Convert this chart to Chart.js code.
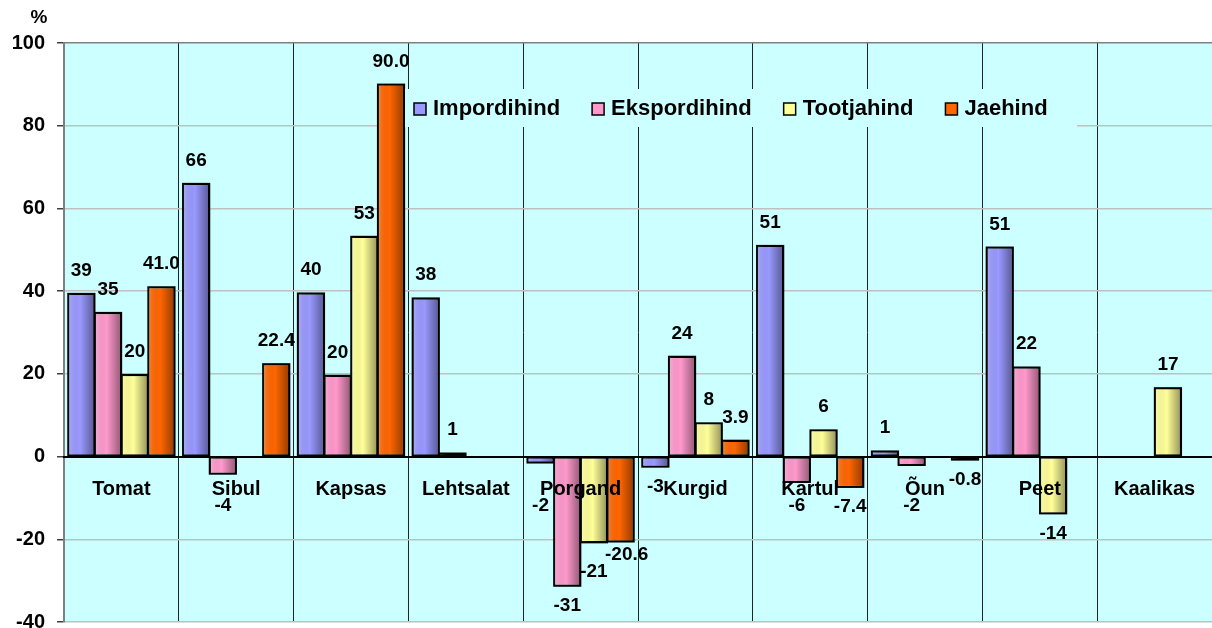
<!DOCTYPE html>
<html>
<head>
<meta charset="utf-8">
<script src="https://cdn.jsdelivr.net/npm/chart.js@4"></script>
<style>
  html, body { margin: 0; padding: 0; background: #fff; }
  #wrap { width: 1212px; height: 628px; }
</style>
</head>
<body>
<div id="wrap"><canvas id="myChart" width="1212" height="628"></canvas></div>
<script>
const categories = ['Tomat', 'Sibul', 'Kapsas', 'Lehtsalat', 'Porgand', 'Kurgid', 'Kartul', 'Õun', 'Peet', 'Kaalikas'];
const impordihind = [39.4, 66, 39.5, 38.3, -1.5, -2.5, 51, 1.3, 50.6, null];
const ekspordihind = [34.8, -4.2, 19.6, 0.8, -31.3, 24.2, -6.2, -2.1, 21.6, null];
const tootjahind = [19.8, null, 53.2, null, -20.8, 8.1, 6.4, null, -13.8, 16.6];
const jaehind = [41.0, 22.4, 90.0, null, -20.6, 3.9, -7.4, -0.8, null, null];
const yTicks = [-40, -20, 0, 20, 40, 60, 80, 100];

const seriesNames = ['Impordihind', 'Ekspordihind', 'Tootjahind', 'Jaehind'];
const seriesColors = ['#9999FF', '#FF99CC', '#FFFF99', '#FF6600'];
const decimals = [0, 0, 0, 1];

const FONT = '"Liberation Sans", Arial, sans-serif';
const CAT_FONT = 'bold 20px ' + FONT;
const LABEL_FONT = 'bold 19px ' + FONT;

const plotBg = {
    id: 'plotBg',
    beforeDraw(chart) {
        const { ctx, chartArea: a } = chart;
        ctx.save();
        ctx.fillStyle = '#CCFFFF';
        ctx.fillRect(a.left, a.top, a.right - a.left, a.bottom - a.top);
        ctx.restore();
    }
};

const barLook = {
    id: 'barLook',
    afterDatasetsDraw(chart) {
        const ctx = chart.ctx;
        const xs = chart.scales.x;
        const catY = chart.scales.y.getPixelForValue(0) + 31;
        ctx.save();
        // shading + border
        chart.data.datasets.forEach((ds, di) => {
            chart.getDatasetMeta(di).data.forEach((bar, i) => {
                const v = ds.data[i];
                if (v === null || v === undefined) return;
                const p = bar.getProps(['x', 'y', 'base', 'width'], true);
                const left = p.x - p.width / 2;
                const top = Math.min(p.y, p.base);
                const h = Math.abs(p.base - p.y);
                const g = ctx.createLinearGradient(left, 0, left + p.width, 0);
                g.addColorStop(0, 'rgba(255,255,255,0.18)');
                g.addColorStop(0.45, 'rgba(0,0,0,0)');
                g.addColorStop(1, 'rgba(0,0,0,0.42)');
                ctx.fillStyle = g;
                ctx.fillRect(left, top, p.width, h);
                ctx.strokeStyle = '#000';
                ctx.lineWidth = 1.5;
                ctx.strokeRect(left, top, p.width, h);
            });
        });

        // value labels, nudged off the category names and each other
        ctx.font = CAT_FONT;
        const catW = categories.map(c => ctx.measureText(c).width);
        ctx.font = LABEL_FONT;
        const placed = [];
        chart.data.datasets.forEach((ds, di) => {
            chart.getDatasetMeta(di).data.forEach((bar, i) => {
                const v = ds.data[i];
                if (v === null || v === undefined) return;
                const p = bar.getProps(['x', 'y'], true);
                const txt = v.toFixed(decimals[di]);
                const w = ctx.measureText(txt).width;
                let lx = p.x;
                let ly = v >= 0 ? p.y - 23 : p.y + 20;
                const cx = xs.getPixelForValue(i);
                if (v < 0 && Math.abs(ly - catY) < 15 && Math.abs(lx - cx) < catW[i] / 2 + w / 2 - 4) {
                    ly = catY + 18;
                }
                const prev = placed.find(o => o.cat === i && Math.abs(o.y - ly) < 16 && Math.abs(o.x - lx) < (o.w + w) / 2);
                if (prev) {
                    prev.y += 9;
                    ly -= 7;
                    lx += 6;
                }
                placed.push({ cat: i, x: lx, y: ly, w: w, txt: txt });
            });
        });
        ctx.fillStyle = '#000';
        ctx.textAlign = 'center';
        ctx.textBaseline = 'middle';
        placed.forEach(o => ctx.fillText(o.txt, o.x, o.y));
        ctx.restore();
    }
};

const legendBox = {
    id: 'legendBox',
    afterDraw(chart) {
        const ctx = chart.ctx;
        ctx.save();
        ctx.fillStyle = '#CCFFFF';
        ctx.fillRect(405, 89, 672, 38);
        ctx.font = 'bold 22px ' + FONT;
        ctx.textBaseline = 'middle';
        ctx.textAlign = 'left';
        let x = 414;
        const y = 109;
        seriesNames.forEach((name, i) => {
            ctx.fillStyle = seriesColors[i];
            ctx.fillRect(x, y - 6, 12, 12);
            ctx.strokeStyle = '#000';
            ctx.lineWidth = 1.5;
            ctx.strokeRect(x, y - 6, 12, 12);
            ctx.fillStyle = '#000';
            ctx.fillText(name, x + 19, y);
            x += 19 + ctx.measureText(name).width + 32;
        });
        // axis unit
        ctx.font = 'bold 19px ' + FONT;
        ctx.textAlign = 'center';
        ctx.fillText('%', 39, 18);
        ctx.restore();
    }
};

const ctx = document.getElementById('myChart').getContext('2d');

const chart = new Chart(ctx, {
    type: 'bar',
    data: {
        labels: categories,
        datasets: [impordihind, ekspordihind, tootjahind, jaehind].map((d, i) => ({
            label: seriesNames[i],
            data: d,
            backgroundColor: seriesColors[i],
            borderColor: '#000',
            borderWidth: 1.5,
            borderSkipped: false,
            categoryPercentage: 0.93,
            barPercentage: 1
        }))
    },
    options: {
        responsive: false,
        animation: false,
        layout: { padding: { top: 43, right: 0, bottom: 6, left: 0 } },
        plugins: {
            legend: { display: false },
            tooltip: { enabled: false }
        },
        scales: {
            x: {
                position: { y: 0 },
                afterFit(scale) {
                    scale.paddingLeft = 0;
                    scale.paddingRight = 0;
                },
                grid: {
                    offset: true,
                    color: '#222',
                    lineWidth: 1,
                    drawTicks: false
                },
                border: { color: '#000', width: 2, z: 1 },
                ticks: {
                    z: 1,
                    color: '#000',
                    font: { family: FONT, size: 20, weight: 'bold' },
                    padding: 21,
                    maxRotation: 0,
                    autoSkip: false
                }
            },
            y: {
                min: -40,
                max: 100,
                afterBuildTicks(scale) {
                    scale.ticks = yTicks.map(v => ({ value: v }));
                },
                afterFit(scale) {
                    scale.width = 64;
                    scale.paddingTop = 0;
                    scale.paddingBottom = 0;
                },
                grid: {
                    color: c => (c.tick && c.tick.value === 100 ? '#808080' : '#C0C0C0'),
                    lineWidth: 1.5,
                    tickLength: 7,
                    tickColor: '#404040'
                },
                border: { color: '#808080', width: 2 },
                ticks: {
                    color: '#000',
                    padding: 12,
                    font: { family: FONT, size: 20, weight: 'bold' }
                }
            }
        }
    },
    plugins: [plotBg, barLook, legendBox]
});
</script>
</body>
</html>
